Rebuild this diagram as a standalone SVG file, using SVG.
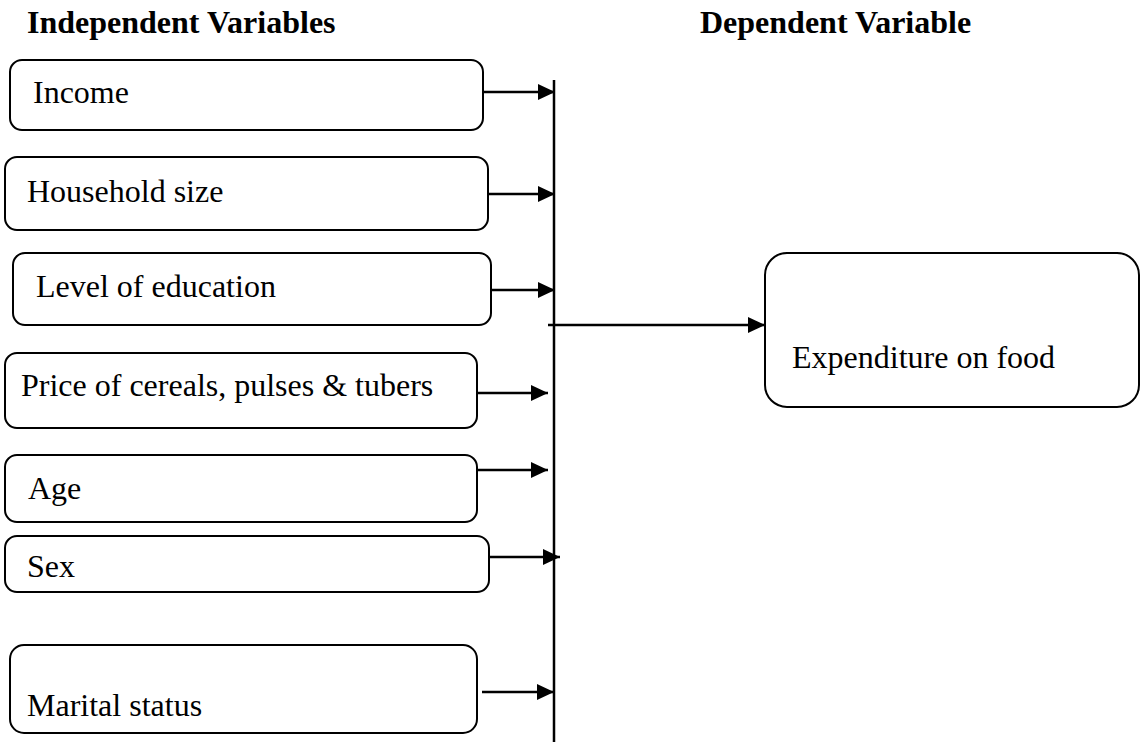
<svg xmlns="http://www.w3.org/2000/svg" width="1141" height="742" viewBox="0 0 1141 742">
<style>
.box{fill:#fff;stroke:#000;stroke-width:2}
.t{font-family:"Liberation Serif","Times New Roman",serif;font-size:32px;fill:#000}
.h{font-family:"Liberation Serif","Times New Roman",serif;font-size:32px;font-weight:bold;fill:#000}
.c{stroke:#000;stroke-width:2.5;fill:none}
</style>
<defs>
<marker id="ah" markerUnits="userSpaceOnUse" markerWidth="18" markerHeight="16" refX="17" refY="8" orient="auto">
<path d="M0,0 L17,8 L0,16 Z" fill="#000"/>
</marker>
</defs>
<rect width="1141" height="742" fill="#fff"/>
<text class="h" x="27" y="33">Independent Variables</text>
<text class="h" x="700" y="33">Dependent Variable</text>
<g id="income"><rect class="box" x="10" y="60" width="473" height="70" rx="12"/><text class="t" x="33" y="103">Income</text></g>
<g id="household"><rect class="box" x="5" y="157" width="483" height="73" rx="12"/><text class="t" x="27" y="202">Household size</text></g>
<g id="education"><rect class="box" x="13" y="253" width="478" height="72" rx="12"/><text class="t" x="36" y="297">Level of education</text></g>
<g id="price"><rect class="box" x="5" y="353" width="472" height="75" rx="12"/><text class="t" x="21" y="396">Price of cereals, pulses &amp; tubers</text></g>
<g id="age"><rect class="box" x="5" y="455" width="472" height="67" rx="12"/><text class="t" x="28" y="499">Age</text></g>
<g id="sex"><rect class="box" x="5" y="536" width="484" height="56" rx="12"/><text class="t" x="27" y="577">Sex</text></g>
<g id="marital"><rect class="box" x="10" y="645" width="467" height="88" rx="14"/><text class="t" x="27" y="716">Marital status</text></g>
<g id="expenditure"><rect class="box" x="765" y="253" width="374" height="154" rx="22"/><text class="t" x="792" y="368">Expenditure on food</text></g>
<g id="connectors">
<line class="c" x1="554" y1="80" x2="554" y2="742"/>
<line class="c" x1="483" y1="92" x2="555" y2="92" marker-end="url(#ah)"/>
<line class="c" x1="488" y1="194" x2="555" y2="194" marker-end="url(#ah)"/>
<line class="c" x1="491" y1="290" x2="555" y2="290" marker-end="url(#ah)"/>
<line class="c" x1="477" y1="393" x2="548" y2="393" marker-end="url(#ah)"/>
<line class="c" x1="477" y1="470" x2="548" y2="470" marker-end="url(#ah)"/>
<line class="c" x1="489" y1="557" x2="560" y2="557" marker-end="url(#ah)"/>
<line class="c" x1="482" y1="692" x2="554" y2="692" marker-end="url(#ah)"/>
<line class="c" x1="548" y1="325" x2="765" y2="325" marker-end="url(#ah)"/>
</g>
</svg>
